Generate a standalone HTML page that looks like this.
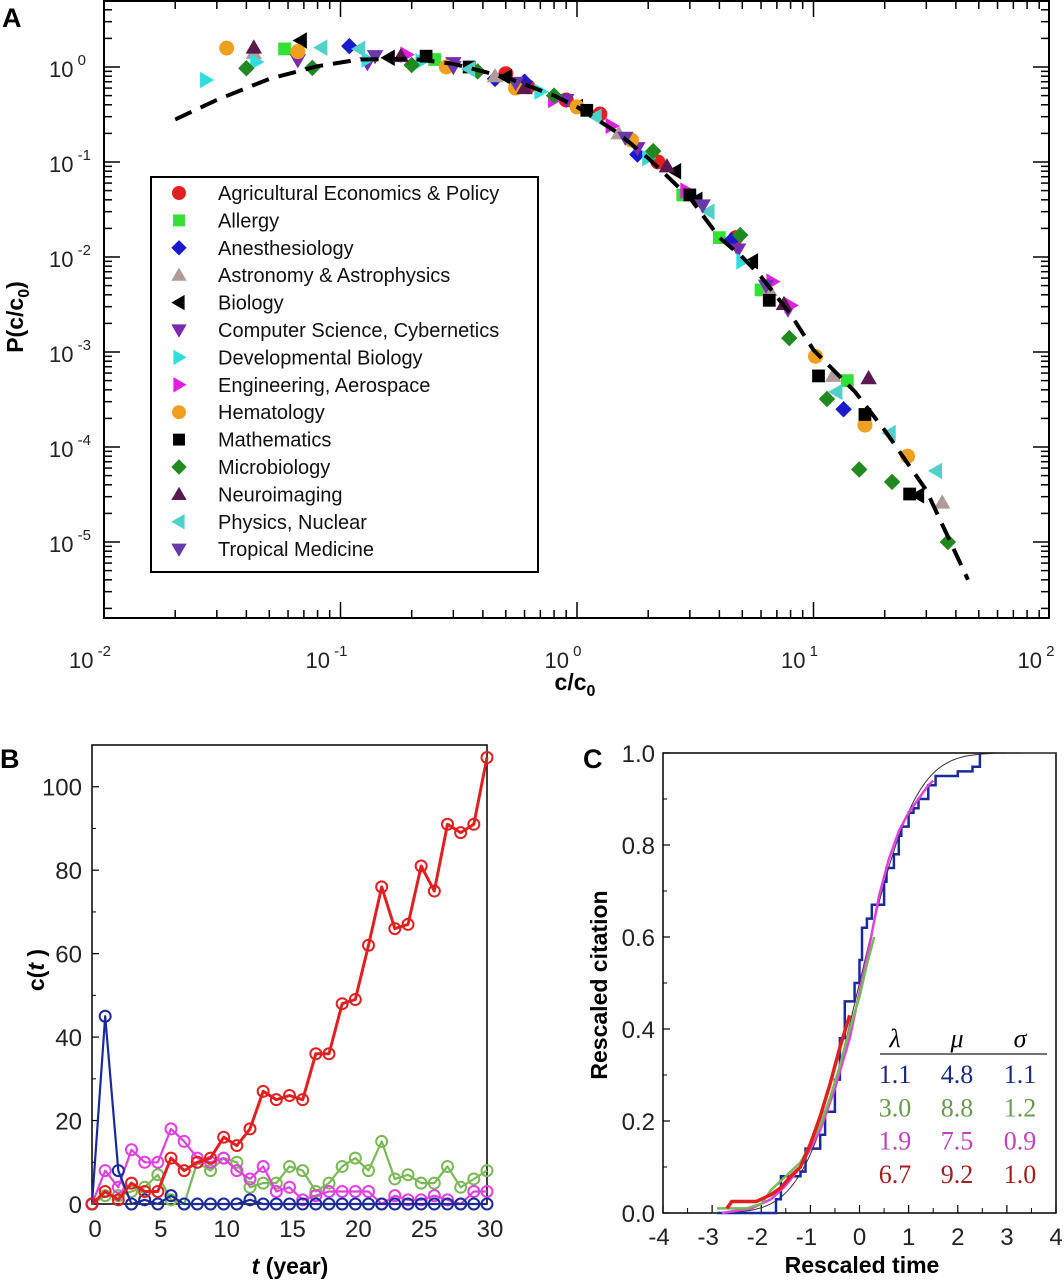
<!DOCTYPE html>
<html><head><meta charset="utf-8"><style>
html,body{margin:0;padding:0;background:#fff;}
svg{display:block;font-family:"Liberation Sans",sans-serif;}
</style></head><body>
<svg id="fig" width="1064" height="1280" viewBox="0 0 1064 1280" xmlns="http://www.w3.org/2000/svg">
<rect x="0" y="0" width="1064" height="1280" fill="#fff"/>
<g id="panelA"></g>
<g id="panelB"></g>
<g id="panelC"></g>
</svg>
<script>
// ---------- Panel A data ----------
const catNames = ["Agricultural Economics & Policy","Allergy","Anesthesiology","Astronomy & Astrophysics","Biology","Computer Science, Cybernetics","Developmental Biology","Engineering, Aerospace","Hematology","Mathematics","Microbiology","Neuroimaging","Physics, Nuclear","Tropical Medicine"];
const catColors = ["#e02020","#33e033","#1a1acc","#b09a9a","#000000","#7a2ab0","#33dddd","#e020e0","#f0a020","#000000","#208a20","#5a1a50","#50d0c8","#6a3aa8"];
const catShapes = ["circle","square","diamond","up","left","down","right","right","circle","square","diamond","up","left","down"];
const aX0 = [0.5,1.25,4.7,0.9,2.2,0.62];
const aY0 = [0.85,0.32,0.016,0.45,0.1,0.62];
const aX1 = [0.058,0.25,2.8,4.0,6.0,13.9];
const aY1 = [1.55,1.2,0.045,0.016,0.0045,0.0005];
const aX2 = [0.109,0.6,1.8,4.5,13.4,0.45];
const aY2 = [1.66,0.7,0.12,0.015,0.00025,0.75];
const aX3 = [0.043,0.45,1.5,6.5,12.1,35];
const aY3 = [1.4,0.8,0.2,0.0045,0.00056,0.000026];
const aX4 = [0.068,0.16,0.5,1.0,2.6,5.5,27.7,3.2];
const aY4 = [1.9,1.25,0.78,0.38,0.08,0.009,0.000031,0.04];
const aX5 = [0.066,0.3,0.9,1.8,4.8,7.8,0.13];
const aY5 = [1.18,1.1,0.45,0.14,0.012,0.0028,1.1];
const aX6 = [0.027,0.044,0.13,0.7,2.0,5.0,0.22];
const aY6 = [0.73,1.13,1.2,0.55,0.11,0.009,1.15];
const aX7 = [0.19,0.8,1.4,2.9,6.7,8.0];
const aY7 = [1.35,0.45,0.24,0.05,0.0055,0.0031];
const aX8 = [0.033,0.066,0.28,1.0,1.7,10.2,16.5,25,0.55];
const aY8 = [1.58,1.45,1.0,0.38,0.17,0.0009,0.00017,0.00008,0.6];
const aX9 = [0.23,0.35,1.1,3.0,6.5,10.5,16.5,25.5];
const aY9 = [1.3,1.0,0.35,0.045,0.0035,0.00056,0.00022,0.000032];
const aX10 = [0.04,0.076,0.2,0.38,2.1,4.9,7.9,11.4,15.6,21.5,37,0.8];
const aY10 = [0.97,0.98,1.05,0.9,0.13,0.017,0.0014,0.00032,0.000058,0.000043,0.00001,0.5];
const aX11 = [0.043,0.18,0.6,2.4,7.5,17.1];
const aY11 = [1.6,1.3,0.6,0.09,0.0032,0.00053];
const aX12 = [0.083,0.35,1.2,3.6,12.5,21,33,0.12];
const aY12 = [1.6,0.95,0.3,0.03,0.00038,0.00014,0.000056,1.55];
const aX13 = [0.14,0.55,1.6,3.4,6.3,0.3];
const aY13 = [1.3,0.68,0.18,0.035,0.005,1.0];
const fitX = [0.02,0.03,0.05,0.08,0.12,0.2,0.3,0.5,0.8,1.0,1.5,2,3,4,5,6,8,10,15,20,30,45];
const fitY = [0.28,0.45,0.75,1.02,1.2,1.22,1.08,0.78,0.5,0.38,0.2,0.11,0.042,0.016,0.01,0.0062,0.0025,0.00105,0.00038,0.00015,0.000035,0.000004];
const aXTicks = [-2,-1,0,1,2];
const aYTicks = [0,-1,-2,-3,-4,-5];
const catX = [aX0,aX1,aX2,aX3,aX4,aX5,aX6,aX7,aX8,aX9,aX10,aX11,aX12,aX13];
const catY = [aY0,aY1,aY2,aY3,aY4,aY5,aY6,aY7,aY8,aY9,aY10,aY11,aY12,aY13];

// ---------- Panel B data ----------
const bYears = [0,1,2,3,4,5,6,7,8,9,10,11,12,13,14,15,16,17,18,19,20,21,22,23,24,25,26,27,28,29,30];
const bRed = [0,3,1,5,3,3,11,8,10,11,16,14,18,27,25,26,25,36,36,48,49,62,76,66,67,81,75,91,89,91,107];
const bMagenta = [0,8,4,13,10,10,18,15,11,10,11,8,6,9,3,4,1,2,3,3,3,3,0,2,1,1,2,1,0,3,3];
const bGreen = [0,2,2,3,4,7,1,0,10,8,11,10,4,5,5,9,8,3,5,9,11,8,15,6,7,5,5,9,4,6,8];
const bBlue = [0,45,8,0,1,0,2,0,0,0,0,0,1,0,0,0,0,0,0,0,0,0,0,0,0,0,0,0,0,0,0];
const bXTicks = [0,5,10,15,20,25,30];
const bYTicks = [0,20,40,60,80,100];

// ---------- Panel C data ----------
const cBlueX = [-2.9,-1.7,-1.6,-1.2,-1.1,-0.8,-0.7,-0.5,-0.4,-0.3,-0.1,0.0,0.05,0.15,0.25,0.5,0.55,0.7,0.8,0.85,1.0,1.1,1.2,1.4,1.55,1.9,2.0,2.3,2.45];
const cBlueY = [0,0.03,0.08,0.09,0.14,0.17,0.22,0.29,0.38,0.46,0.5,0.55,0.62,0.64,0.67,0.72,0.75,0.78,0.82,0.84,0.87,0.88,0.9,0.93,0.95,0.95,0.96,0.97,1.0];
const cGreenX = [-2.9,-2.3,-2.0,-1.8,-1.6,-1.4,-1.2,-1.0,-0.8,-0.6,-0.4,-0.2,0,0.15,0.3];
const cGreenY = [0.01,0.01,0.02,0.05,0.07,0.09,0.11,0.15,0.19,0.25,0.32,0.4,0.47,0.54,0.6];
const cMagX = [-2.8,-2.2,-1.8,-1.5,-1.2,-1.0,-0.8,-0.5,-0.2,0,0.2,0.4,0.6,0.8,1.0,1.2,1.4,1.5];
const cMagY = [0.0,0.01,0.03,0.06,0.1,0.14,0.18,0.27,0.38,0.48,0.58,0.69,0.77,0.83,0.87,0.9,0.93,0.94];
const cRedX = [-2.7,-2.6,-2.1,-1.9,-1.8,-1.6,-1.4,-1.2,-1.0,-0.8,-0.6,-0.4,-0.2];
const cRedY = [0.01,0.025,0.025,0.035,0.04,0.055,0.08,0.1,0.15,0.21,0.28,0.36,0.43];
const fitMu = [0];
const fitSigma = [0.88];
const cXTicks = [-4,-3,-2,-1,0,1,2,3,4];
const cYTicks = [0,0.2,0.4,0.6,0.8,1.0];
const tblLambda = ["1.1","3.0","1.9","6.7"];
const tblMu = ["4.8","8.8","7.5","9.2"];
const tblSigma = ["1.1","1.2","0.9","1.0"];
const tblColors = ["#1a2a80","#6a9a50","#c040c0","#a02020"];

const NS = "http://www.w3.org/2000/svg";
function mk(tag, parent, attrs){ const e=document.createElementNS(NS,tag); for(const k in attrs) e.setAttribute(k,attrs[k]); parent.appendChild(e); return e; }

// ===== Panel A =====
const A = document.getElementById('panelA');
const aL=104, aR=1049, aT=1, aB=618, aDec=236.5, aYDec=95, aY0px=67;
function ax(v){ return aL + (Math.log10(v)+2)*aDec; }
function ay(v){ return aY0px - Math.log10(v)*aYDec; }
let fr = mk('rect',A,{x:aL,y:aT,width:aR-aL,height:aB-aT,fill:'none',stroke:'#000','stroke-width':2});
 
// x ticks
for(let d=-2; d<2; d++){
  for(let m=1;m<10;m++){
    const px = aL + (d+2+Math.log10(m))*aDec;
    const len = m===1?16:8;
    mk('line',A,{x1:px,y1:aB,x2:px,y2:aB-len,stroke:'#000','stroke-width':1.5});
    mk('line',A,{x1:px,y1:aT,x2:px,y2:aT+len,stroke:'#000','stroke-width':1.5});
  }
}
// y ticks
for(let d=1; d>=-6; d--){
  for(let m=1;m<10;m++){
    const py = aY0px - (d+Math.log10(m))*aYDec;
    if(py<aT||py>aB) continue;
    const len = m===1?16:8;
    mk('line',A,{x1:aL,y1:py,x2:aL+len,y2:py,stroke:'#000','stroke-width':1.5});
    mk('line',A,{x1:aR,y1:py,x2:aR-len,y2:py,stroke:'#000','stroke-width':1.5});
  }
}
aXTicks.forEach(e=>{
  const t = mk('text',A,{x:ax(Math.pow(10,e))-14,y:668,'font-size':22,'text-anchor':'middle',fill:'#222'});
   
  t.innerHTML = '10<tspan dy="-12" font-size="15"> '+e+'</tspan>';
});
aYTicks.forEach(e=>{
  const t = mk('text',A,{x:49,y:ay(Math.pow(10,e))+10,'font-size':22,fill:'#222'});
   
  t.innerHTML = '10<tspan dy="-12" font-size="15"> '+e+'</tspan>';
});
let yt = mk('text',A,{x:0,y:0,'font-size':23,'font-weight':'bold','text-anchor':'middle',transform:'translate(23,317) rotate(-90)'});
 
yt.innerHTML='P(c/c<tspan dy="6" font-size="16">0</tspan><tspan dy="-6">)</tspan>';
let xt = mk('text',A,{x:575,y:690,'font-size':23,'font-weight':'bold','text-anchor':'middle'});
 
xt.innerHTML='c/c<tspan dy="6" font-size="16">0</tspan>';
let la = mk('text',A,{x:2,y:27,'font-size':27,'font-weight':'bold'});
 
la.textContent='A';

function marker(parent, shape, cx, cy, r, color){
  let e;
  if(shape==='circle') e = mk('circle',parent,{cx:cx,cy:cy,r:r,fill:color});
  else if(shape==='square') e = mk('rect',parent,{x:cx-r*0.85,y:cy-r*0.85,width:r*1.7,height:r*1.7,fill:color});
  else {
    let p;
    if(shape==='diamond') p=[[cx,cy-r*1.1],[cx+r*1.1,cy],[cx,cy+r*1.1],[cx-r*1.1,cy]];
    else if(shape==='up') p=[[cx,cy-r*1.1],[cx+r*1.1,cy+r*0.8],[cx-r*1.1,cy+r*0.8]];
    else if(shape==='down') p=[[cx,cy+r*1.1],[cx+r*1.1,cy-r*0.8],[cx-r*1.1,cy-r*0.8]];
    else if(shape==='left') p=[[cx-r*1.1,cy],[cx+r*0.8,cy-r*1.1],[cx+r*0.8,cy+r*1.1]];
    else p=[[cx+r*1.1,cy],[cx-r*0.8,cy-r*1.1],[cx-r*0.8,cy+r*1.1]];
    e = mk('polygon',parent,{points:p.map(q=>q.join(',')).join(' '),fill:color});
  }
  return e;
}
// points
catNames.forEach((n,i)=>{
  catX[i].forEach((xv,j)=>{
    const m = marker(A,catShapes[i],ax(xv),ay(catY[i][j]),7.5,catColors[i]);
    
    
  });
});
// fit curve
let fd = fitX.map((v,i)=>(i?'L':'M')+ax(v).toFixed(1)+','+ay(fitY[i]).toFixed(1)).join(' ');
let fp = mk('path',A,{d:fd,fill:'none',stroke:'#000','stroke-width':4,'stroke-dasharray':'18,10'});
 
// legend
const lg = mk('g',A,{});
 
mk('rect',lg,{x:151,y:177,width:387,height:395,fill:'#fff',stroke:'#000','stroke-width':2});
catNames.forEach((n,i)=>{
  const yy = 193 + i*27.4;
  const g = mk('g',lg,{});
   
  marker(g,catShapes[i],179,yy,7,catColors[i]);
  const t = mk('text',g,{x:218,y:yy+7,'font-size':20,fill:'#111'});
  t.textContent = n;
});

// ===== Panel B =====
const B = document.getElementById('panelB');
const bL=92, bR=487, bT=745, bB=1204;
function bx(v){ return bL + v/30*(bR-bL); }
function by(v){ return bB - v/110*(bB-bT); }
let bf = mk('rect',B,{x:bL,y:bT,width:bR-bL,height:bB-bT,fill:'none',stroke:'#000','stroke-width':1.5});
 
bYTicks.forEach(v=>{
  mk('line',B,{x1:bL,y1:by(v),x2:bL+7,y2:by(v),stroke:'#000','stroke-width':1.2});
  mk('line',B,{x1:bL,y1:by(v+10),x2:bL+4,y2:by(v+10),stroke:'#000','stroke-width':1});
  const t = mk('text',B,{x:bL-10,y:by(v)+9,'font-size':24,'text-anchor':'end',fill:'#222'});
   
  t.textContent = v;
});
bXTicks.forEach(v=>{
  const t = mk('text',B,{x:bx(v)+3,y:bB+33,'font-size':24,'text-anchor':'middle',fill:'#222'});
   
  t.textContent = v;
});
let bxt = mk('text',B,{x:290,y:1274,'font-size':23,'font-weight':'bold','text-anchor':'middle'});
 
bxt.innerHTML='<tspan font-style="italic">t</tspan> (year)';
let byt = mk('text',B,{x:0,y:0,'font-size':23,'font-weight':'bold','text-anchor':'middle',transform:'translate(44,970) rotate(-90)'});
 
byt.innerHTML='c(<tspan font-style="italic">t</tspan> )';
let lb = mk('text',B,{x:0,y:768,'font-size':27,'font-weight':'bold'});
 
lb.textContent='B';
const bSeries = [[bGreen,'#7ab858','series-green'],[bMagenta,'#e040e0','series-magenta'],[bBlue,'#1a2a9a','series-blue'],[bRed,'#e02020','series-red']];
bSeries.forEach(s=>{
  const g = mk('g',B,{});
   
  const d = s[0].map((v,i)=>(i?'L':'M')+bx(bYears[i]).toFixed(1)+','+by(v).toFixed(1)).join(' ');
  mk('path',g,{d:d,fill:'none',stroke:s[1],'stroke-width':s[2]==='series-red'?3:2.2,'stroke-linejoin':'round'});
  s[0].forEach((v,i)=>{
    const c = mk('circle',g,{cx:bx(bYears[i]),cy:by(v),r:5.5,fill:'none',stroke:s[1],'stroke-width':2});
     
  });
});

// ===== Panel C =====
const C = document.getElementById('panelC');
const cL=663, cR=1056, cT=753, cB=1213;
function cx(v){ return cL + (v+4)/8*(cR-cL); }
function cy(v){ return cB - v*(cB-cT); }
let cf = mk('rect',C,{x:cL,y:cT,width:cR-cL,height:cB-cT,fill:'none',stroke:'#000','stroke-width':1.5});
 
cYTicks.forEach((v,i)=>{
  mk('line',C,{x1:cL,y1:cy(v),x2:cL+7,y2:cy(v),stroke:'#000','stroke-width':1.2});
  if(i<cYTicks.length-1) mk('line',C,{x1:cL,y1:cy(v+0.1),x2:cL+4,y2:cy(v+0.1),stroke:'#000','stroke-width':1});
  const t = mk('text',C,{x:cL-8,y:cy(v)+9,'font-size':24,'text-anchor':'end',fill:'#222'});
   
  t.textContent = v.toFixed(1);
});
cXTicks.forEach((v,i)=>{
  mk('line',C,{x1:cx(v),y1:cB,x2:cx(v),y2:cB-8,stroke:'#000','stroke-width':1.2});
  if(i<cXTicks.length-1) mk('line',C,{x1:cx(v+0.5),y1:cB,x2:cx(v+0.5),y2:cB-5,stroke:'#000','stroke-width':1});
  const t = mk('text',C,{x:cx(v)-(v<0?4:0),y:cB+32,'font-size':24,'text-anchor':'middle',fill:'#222'});
   
  t.textContent = v;
});
let cxt = mk('text',C,{x:862,y:1273,'font-size':23,'font-weight':'bold','text-anchor':'middle'});
 
cxt.textContent='Rescaled time';
let cyt = mk('text',C,{x:0,y:0,'font-size':23,'font-weight':'bold','text-anchor':'middle',transform:'translate(607,985) rotate(-90)'});
 
cyt.textContent='Rescaled citation';
let lc = mk('text',C,{x:583,y:768,'font-size':27,'font-weight':'bold'});
 
lc.textContent='C';
// fit curve (normal CDF)
function erf(x){const s=x<0?-1:1;x=Math.abs(x);const t=1/(1+0.3275911*x);const y=1-(((((1.061405429*t-1.453152027)*t)+1.421413741)*t-0.284496736)*t+0.254829592)*t*Math.exp(-x*x);return s*y;}
let fdC='';
for(let i=0;i<=140;i++){ const xv=-3+i*0.05; const yv=0.5*(1+erf((xv-fitMu[0])/(fitSigma[0]*Math.SQRT2))); fdC+=(i?'L':'M')+cx(xv).toFixed(1)+','+cy(yv).toFixed(1); }
let fc = mk('path',C,{d:fdC,fill:'none',stroke:'#333','stroke-width':1});
 
function stepPath(xs,ys){ let d='M'+cx(xs[0]).toFixed(1)+','+cy(ys[0]).toFixed(1); for(let i=1;i<xs.length;i++){ d+='H'+cx(xs[i]).toFixed(1)+'V'+cy(ys[i]).toFixed(1);} return d; }
function linePath(xs,ys){ return xs.map((v,i)=>(i?'L':'M')+cx(v).toFixed(1)+','+cy(ys[i]).toFixed(1)).join(''); }
let cb = mk('path',C,{d:stepPath(cBlueX,cBlueY),fill:'none',stroke:'#1a2a9a','stroke-width':2.5});
 
let cm = mk('path',C,{d:linePath(cMagX,cMagY),fill:'none',stroke:'#e040e0','stroke-width':2.5});
 
let cg = mk('path',C,{d:linePath(cGreenX,cGreenY),fill:'none',stroke:'#7ab858','stroke-width':2.5});
 
let cr = mk('path',C,{d:linePath(cRedX,cRedY),fill:'none',stroke:'#e02020','stroke-width':3.5});
 
// table
const tb = mk('g',C,{'font-family':'"Liberation Serif",serif','font-size':26,'text-anchor':'middle'});
 
[['λ',895],['μ',957],['σ',1020]].forEach(h=>{ const t=mk('text',tb,{x:h[1],y:1047,'font-style':'italic'}); t.textContent=h[0]; });
mk('line',tb,{x1:880,y1:1054,x2:1047,y2:1054,stroke:'#444','stroke-width':1.5});
tblLambda.forEach((v,i)=>{
  const yy = 1083 + i*33.3;
  const r = mk('g',tb,{fill:tblColors[i]});
   
  mk('text',r,{x:895,y:yy}).textContent=v;
  mk('text',r,{x:957,y:yy}).textContent=tblMu[i];
  mk('text',r,{x:1020,y:yy}).textContent=tblSigma[i];
});
</script>
</body></html>
